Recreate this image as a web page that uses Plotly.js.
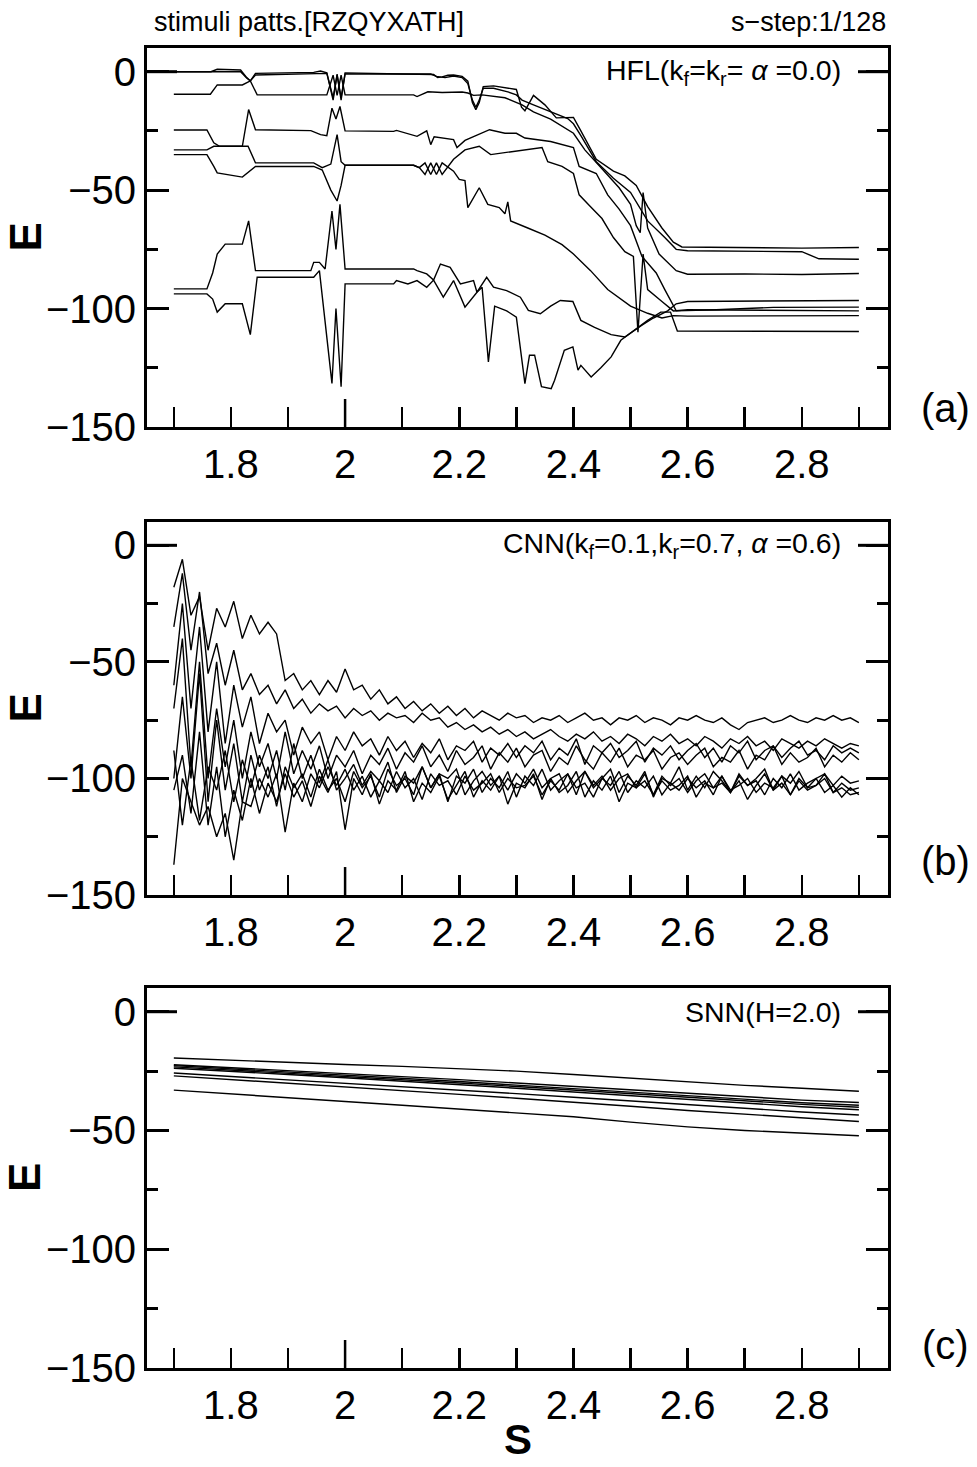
<!DOCTYPE html>
<html>
<head>
<meta charset="utf-8">
<script src="https://cdn.plot.ly/plotly-3.0.1.min.js"></script>
<style>html,body{margin:0;padding:0;background:#fff;}#chart{width:977px;height:1467px;}</style>
</head>
<body>
<div id="chart"></div>
<script>
// ---------------- Panel (a): HFL ----------------
const a1x = [1.70,1.765,1.776,1.817,1.826,1.834,1.843,1.945,1.957,1.968,1.979,1.986,1.993,2.0,2.10,2.155,2.162,2.17,2.18,2.19,2.205,2.215,2.223,2.229,2.235,2.242,2.26,2.285,2.30,2.309,2.315,2.33,2.35,2.37,2.40,2.413,2.44,2.47,2.49,2.51,2.53,2.555,2.575,2.59,2.70,2.80,2.90];
const a1y = [0,0,1,0.7,-2,-3.9,-0.7,-0.3,0.3,-0.5,-12,-1,-12,-0.5,-1,-1.2,-2.5,-2.2,-1.5,-1.4,-2,-4,-13,-16,-13,-6.3,-6,-6.8,-7.5,-15,-16.5,-10,-14,-19.5,-19.3,-25,-37,-42,-44,-48,-57,-66,-72,-74,-74.2,-74.5,-74.2];
const a2x = [1.70,1.817,1.828,1.834,1.843,1.968,1.979,1.986,1.993,2.0,2.15,2.16,2.175,2.19,2.205,2.215,2.223,2.229,2.235,2.242,2.26,2.285,2.30,2.31,2.33,2.35,2.39,2.40,2.413,2.44,2.47,2.50,2.515,2.53,2.56,2.58,2.60,2.80,2.83,2.90];
const a2y = [0,0,-2.8,-3.9,-1.4,-0.7,-11,-1.5,-11,-1,-1,-2,-2.5,-1.8,-2.5,-5,-12,-15,-12,-7,-7,-8.5,-9.8,-12,-14,-16,-19.8,-22,-27,-38,-45,-51,-57,-63,-70,-75,-75.6,-76,-79,-79.2];
const a3x = [1.70,1.764,1.776,1.82,1.834,1.846,1.968,1.979,1.986,1.993,2.0,2.12,2.126,2.145,2.17,2.205,2.215,2.225,2.24,2.27,2.28,2.31,2.33,2.36,2.40,2.42,2.45,2.48,2.50,2.51,2.517,2.522,2.53,2.55,2.58,2.60,2.70,2.80,2.90];
const a3y = [-9.5,-9.5,-5.6,-5.6,-3.9,-9.8,-9.8,-1.5,-10,-1.5,-9.8,-9.8,-10.5,-8.5,-8.8,-8.6,-9,-10,-9.8,-10.5,-11,-14,-17,-20,-26,-33,-41,-49,-56,-65,-68,-51,-66,-77,-84,-85.5,-85.4,-85.6,-85.2];
const a4x = [1.70,1.758,1.77,1.78,1.82,1.831,1.843,1.94,1.957,1.968,1.977,1.984,1.991,2.0,2.085,2.09,2.126,2.143,2.15,2.156,2.19,2.196,2.21,2.24,2.253,2.28,2.30,2.315,2.33,2.36,2.40,2.41,2.44,2.46,2.48,2.50,2.52,2.545,2.56,2.575,2.58,2.65,2.75,2.90];
const a4y = [-24.6,-24.6,-30,-31.5,-31.5,-16,-24.5,-24.9,-26.6,-27,-15.4,-20,-14.7,-25,-25.2,-24.8,-27.3,-25,-30.8,-27.5,-28.7,-32,-29,-25.9,-24.5,-26,-26,-28,-28.5,-29.5,-32,-40,-43,-52,-58,-65,-78,-85,-92,-99,-101,-100.5,-99.5,-99.4];
const a5x = [1.70,1.758,1.77,1.776,1.83,1.843,1.945,1.96,1.975,1.986,1.993,2.0,2.12,2.13,2.14,2.15,2.16,2.17,2.19,2.21,2.235,2.255,2.27,2.285,2.31,2.345,2.355,2.38,2.40,2.41,2.43,2.45,2.47,2.49,2.505,2.513,2.522,2.53,2.555,2.575,2.60,2.75,2.90];
const a5y = [-33,-33,-31.5,-31.5,-31.5,-38.5,-38.5,-40.5,-39,-26.6,-38,-39.5,-39.5,-40.5,-38.5,-43.4,-38.5,-43.4,-37,-33,-31.5,-35,-34.5,-34,-33,-32,-38,-40,-43,-52,-57,-62,-70,-76,-78,-110,-77,-92,-97,-101,-100.5,-100.6,-101];
const a6x = [1.70,1.758,1.77,1.776,1.82,1.843,1.945,1.96,1.975,1.986,1.993,2.0,2.12,2.13,2.14,2.15,2.16,2.17,2.19,2.2,2.21,2.215,2.235,2.25,2.27,2.28,2.285,2.29,2.32,2.35,2.38,2.40,2.43,2.46,2.50,2.53,2.555,2.575,2.60,2.75,2.90];
const a6y = [-35,-35,-40,-42.7,-44.5,-40,-40,-41.5,-50,-54.6,-48,-39.5,-39.5,-40.5,-43.4,-38.5,-43.4,-38.5,-42,-45.5,-46,-57.4,-49,-56,-57.4,-60,-55,-63,-66,-69,-73,-77,-84,-92,-99,-102,-104,-103,-103.2,-103,-103];
const a7x = [1.70,1.758,1.768,1.776,1.79,1.82,1.831,1.843,1.94,1.945,1.955,1.965,1.977,1.984,1.991,2.0,2.12,2.126,2.143,2.155,2.167,2.184,2.202,2.225,2.231,2.248,2.26,2.283,2.307,2.321,2.342,2.36,2.377,2.399,2.413,2.437,2.466,2.49,2.52,2.54,2.565,2.58,2.60,2.75,2.90];
const a7y = [-91.7,-91.7,-85,-77,-72.8,-72.8,-63,-84,-84,-80.5,-80.5,-83.3,-58.8,-75,-56,-83.3,-83.3,-84,-85.4,-88,-81.2,-82.6,-89.6,-88.2,-93.1,-86.8,-91,-92.4,-95.2,-100.8,-102.2,-99,-96.6,-97,-105,-108,-111,-112,-107,-104,-101,-98,-97,-96.8,-96.6];
const a8x = [1.70,1.758,1.768,1.776,1.79,1.82,1.834,1.846,1.945,1.955,1.977,1.984,1.993,2.0,2.085,2.09,2.11,2.126,2.143,2.155,2.172,2.19,2.21,2.231,2.24,2.251,2.262,2.283,2.30,2.315,2.323,2.332,2.344,2.361,2.367,2.384,2.399,2.408,2.413,2.431,2.448,2.466,2.483,2.506,2.53,2.553,2.57,2.582,2.70,2.90];
const a8y = [-93.8,-93.8,-96,-101.5,-98,-98,-111,-86.8,-86.8,-84,-131.6,-100,-133,-89.6,-89.6,-88.2,-89.6,-88.2,-91,-88,-95.2,-88.2,-99.4,-93.1,-91,-122.5,-99,-101,-103.6,-131.7,-119.7,-119.7,-133,-133.8,-130.3,-117.6,-116.2,-126,-124,-128.9,-125,-120.4,-113.4,-109.2,-105,-101.5,-101.5,-109.5,-109.6,-109.7];

// ---------------- Panel (b): CNN ----------------
const bx = [1.700,1.715,1.730,1.745,1.760,1.775,1.790,1.805,1.820,1.835,1.850,1.865,1.880,1.895,1.910,1.925,1.940,1.955,1.970,1.985,2.000,2.015,2.030,2.045,2.060,2.075,2.090,2.105,2.120,2.135,2.150,2.165,2.180,2.195,2.210,2.225,2.240,2.255,2.270,2.285,2.300,2.315,2.330,2.345,2.360,2.375,2.390,2.405,2.420,2.435,2.450,2.465,2.480,2.495,2.510,2.525,2.540,2.555,2.570,2.585,2.600,2.615,2.630,2.645,2.660,2.675,2.690,2.705,2.720,2.735,2.750,2.765,2.780,2.795,2.810,2.825,2.840,2.855,2.870,2.885,2.900];
const b1 = [-18,-6,-30,-22,-45,-27,-35,-24,-40,-30,-38,-33,-38,-58,-55,-62,-58,-64,-58,-63,-53,
  -62,-60,-66,-62,-68,-65,-70,-67,-71,-68,-72,-69,-73,-70,-74,-71,-73,-75,-72,-74,
  -73,-76,-74,-75,-73,-76,-74,-72,-75,-74,-77,-74,-75,-73,-76,-74,-75,-77,-74,-75,
  -73,-75,-76,-74,-77,-79,-76,-75,-74,-76,-75,-73,-75,-76,-74,-75,-73,-75,-74,-76];
const b2 = [-35,-12,-45,-20,-55,-42,-60,-45,-62,-55,-64,-60,-68,-62,-70,-66,-72,-68,-71,-69,-74,
  -70,-73,-71,-75,-72,-74,-73,-76,-72,-75,-74,-78,-76,-79,-77,-80,-78,-81,-79,-82,
  -80,-83,-81,-79,-82,-84,-81,-83,-80,-84,-82,-85,-81,-83,-86,-82,-84,-81,-85,-83,
  -86,-82,-84,-87,-83,-85,-82,-86,-84,-88,-83,-85,-87,-84,-86,-83,-85,-87,-85,-86];
const b3 = [-60,-25,-70,-35,-80,-50,-85,-60,-78,-65,-85,-72,-80,-75,-90,-78,-85,-80,-92,-82,-88,
  -80,-86,-83,-90,-82,-88,-84,-91,-85,-89,-83,-92,-86,-88,-84,-93,-87,-90,-85,-91,
  -86,-89,-84,-92,-87,-90,-83,-94,-86,-89,-85,-91,-88,-84,-93,-87,-90,-86,-92,-88,
  -85,-91,-87,-93,-86,-89,-84,-92,-88,-86,-91,-87,-84,-90,-88,-92,-86,-89,-87,-89];
const b4 = [-70,-40,-95,-50,-100,-70,-95,-75,-100,-80,-95,-85,-100,-80,-98,-88,-96,-86,-100,-90,-95,
  -88,-98,-90,-94,-87,-96,-89,-93,-86,-95,-90,-97,-88,-94,-91,-86,-96,-89,-93,-87,
  -95,-90,-88,-97,-91,-94,-86,-92,-96,-89,-93,-87,-95,-90,-92,-88,-96,-91,-89,-94,
  -90,-87,-95,-91,-93,-88,-96,-90,-92,-86,-94,-89,-93,-91,-87,-95,-90,-93,-89,-92];
const b5 = [-100,-65,-100,-55,-110,-75,-105,-85,-110,-90,-105,-95,-112,-95,-104,-98,-108,-96,-105,-100,-110,
  -97,-104,-99,-108,-96,-103,-100,-107,-95,-104,-98,-110,-99,-102,-96,-106,-100,-104,-97,-108,
  -99,-103,-96,-105,-101,-98,-107,-97,-104,-100,-96,-106,-99,-103,-97,-108,-100,-102,-95,-105,
  -99,-104,-97,-101,-106,-98,-103,-100,-96,-105,-99,-102,-97,-104,-100,-98,-103,-99,-102,-101];
const b6 = [-105,-90,-115,-80,-120,-95,-125,-105,-118,-100,-115,-102,-110,-98,-108,-101,-112,-99,-106,-97,-122,
  -100,-107,-98,-111,-101,-105,-97,-110,-102,-106,-99,-109,-103,-97,-108,-101,-105,-99,-111,-102,
  -104,-98,-109,-100,-106,-103,-97,-108,-101,-105,-99,-110,-102,-104,-98,-107,-101,-105,-103,-99,
  -108,-102,-104,-99,-106,-101,-109,-103,-98,-105,-102,-107,-100,-104,-103,-98,-106,-102,-105,-104];
const b7 = [-137,-100,-110,-120,-112,-125,-115,-135,-110,-112,-100,-108,-98,-123,-102,-110,-98,-104,-95,-103,-96,
  -105,-99,-108,-101,-106,-97,-104,-100,-109,-98,-103,-101,-107,-99,-105,-102,-98,-106,-100,-104,
  -103,-99,-107,-101,-105,-98,-104,-102,-108,-100,-103,-97,-106,-101,-104,-99,-107,-102,-105,-100,
  -104,-101,-107,-99,-105,-103,-100,-106,-102,-104,-99,-107,-101,-105,-103,-100,-106,-104,-107,-106];
const b8 = [-88,-120,-92,-118,-95,-105,-88,-110,-92,-104,-90,-100,-88,-105,-85,-100,-90,-102,-92,-105,-100,
  -94,-103,-97,-101,-93,-106,-99,-102,-95,-104,-98,-100,-96,-107,-101,-97,-103,-99,-105,-98,
  -102,-96,-104,-100,-98,-106,-101,-97,-103,-99,-105,-100,-98,-104,-101,-107,-99,-103,-100,-106,
  -101,-98,-104,-102,-106,-99,-103,-101,-107,-100,-104,-98,-105,-102,-100,-106,-103,-108,-104,-107];

// ---------------- Panel (c): SNN ----------------
const cx = [1.7,1.8,1.9,2.0,2.1,2.2,2.3,2.4,2.5,2.6,2.7,2.8,2.9];
const c1 = [-19.5,-20.5,-21.3,-22.2,-23,-24,-25,-26.4,-28,-29.5,-31,-32.2,-33.5];
const c2 = [-22.3,-23.5,-24.8,-26,-27.3,-28.6,-30,-31.5,-33,-34.5,-36,-37.2,-38.2];
const c3 = [-22.7,-24,-25.3,-26.6,-28,-29.4,-30.9,-32.4,-34,-35.5,-37,-38.3,-39.4];
const c4 = [-23.2,-24.5,-25.8,-27.1,-28.5,-30,-31.5,-33,-34.6,-36.2,-37.7,-39,-40.2];
const c5 = [-23.8,-25,-26.4,-27.8,-29.2,-30.7,-32.2,-33.8,-35.4,-37,-38.6,-40,-41.3];
const c6 = [-25.8,-27.2,-28.6,-30,-31.5,-33,-34.5,-36,-37.6,-39.3,-40.8,-42.2,-43.5];
const c7 = [-27,-28.5,-30,-31.6,-33.2,-34.8,-36.4,-38,-39.8,-41.6,-43.2,-44.8,-46.2];
const c8 = [-33,-34.5,-36,-37.8,-39.4,-41,-42.6,-44.2,-46.5,-48.5,-50,-51,-52.2];

// tick labels
const xTickVals = [1.8,2.0,2.2,2.4,2.6,2.8];
const xTickText = ['1.8','2','2.2','2.4','2.6','2.8'];
const yTickVals = [-150,-100,-50,0];
const yTickText = ['\u2212150','\u2212100','\u221250','0'];

const FONT = 'Liberation Sans, Arial, Helvetica, sans-serif';
const LINE = {color:'#000', width:1.4};

const traces = [];
function add(x, y, xa, ya){ traces.push({x:x, y:y, xaxis:xa, yaxis:ya, type:'scatter', mode:'lines', line:LINE, hoverinfo:'skip', showlegend:false}); }
[[a1x,a1y],[a2x,a2y],[a3x,a3y],[a4x,a4y],[a5x,a5y],[a6x,a6y],[a7x,a7y],[a8x,a8y]].forEach(p=>add(p[0],p[1],'x','y'));
[b1,b2,b3,b4,b5,b6,b7,b8].forEach(s=>add(bx,s,'x2','y2'));
[c1,c2,c3,c4,c5,c6,c7,c8].forEach(s=>add(cx,s,'x3','y3'));

function xaxis(anchor){
  return {anchor:anchor, domain:[0,1], range:[1.653,2.951], showline:true, linewidth:3, linecolor:'#000', mirror:true,
    showgrid:false, zeroline:false, ticks:'inside', ticklen:20, tickwidth:2.5, tickcolor:'#000',
    tickmode:'array', tickvals:xTickVals, ticktext:xTickText,
    minor:{dtick:0.1, tick0:1.7, ticks:'inside', ticklen:20, tickwidth:2.5, tickcolor:'#000', showgrid:false},
    tickfont:{family:FONT, size:40, color:'#000'}};
}
function yaxis(anchor, dom){
  return {anchor:anchor, domain:dom, range:[-150,10], showline:true, linewidth:3, linecolor:'#000', mirror:'ticks',
    showgrid:false, zeroline:false, ticks:'inside', ticklen:22, tickwidth:3, tickcolor:'#000',
    tickmode:'array', tickvals:yTickVals, ticktext:yTickText,
    minor:{dtick:25, tick0:0, ticks:'inside', ticklen:11, tickwidth:3, tickcolor:'#000', showgrid:false},
    tickfont:{family:FONT, size:40, color:'#000'}};
}

const domA = [0.7129,1.0], domB = [0.3583,0.6409], domC = [0,0.2879];
const shapes = [];
[['x','y',379],['x2','y2',373],['x3','y3',380]].forEach(p=>{
  const xd = p[0]+' domain', yd = p[1]+' domain';
  shapes.push({type:'line', xref:xd, yref:p[1], x0:0, x1:30/741, y0:0, y1:0, line:{color:'#000', width:3}});
  shapes.push({type:'line', xref:xd, yref:p[1], x0:1-30/741, x1:1, y0:0, y1:0, line:{color:'#000', width:3}});
  shapes.push({type:'line', xref:p[0], yref:yd, x0:2, x1:2, y0:0, y1:28/p[2], line:{color:'#000', width:2.5}});
});

const ann = [];
function txt(o, size){ ann.push(Object.assign({showarrow:false, font:{family:FONT, size:size, color:'#000'}}, o)); }
txt({text:'stimuli patts.[RZQYXATH]', xref:'paper', yref:'paper', x:0.0067, y:1.0197, xanchor:'left', yanchor:'middle'}, 27);
txt({text:'s\u2212step:1/128', xref:'paper', yref:'paper', x:1.0, y:1.0197, xanchor:'right', yanchor:'middle'}, 27);
txt({text:'HFL(k<sub>f</sub>=k<sub>r</sub>= <i>\u03b1</i> =0.0)', xref:'x domain', yref:'y', x:0.939, y:0, xanchor:'right', yanchor:'middle'}, 28.5);
txt({text:'CNN(k<sub>f</sub>=0.1,k<sub>r</sub>=0.7, <i>\u03b1</i> =0.6)', xref:'x2 domain', yref:'y2', x:0.939, y:0, xanchor:'right', yanchor:'middle'}, 28.5);
txt({text:'SNN(H=2.0)', xref:'x3 domain', yref:'y3', x:0.939, y:0, xanchor:'right', yanchor:'middle'}, 28.5);
['y','y2','y3'].forEach(ya=>{
  ann.push({text:'<b>E</b>', showarrow:false, xref:'paper', yref:ya+' domain', x:-0.1646, y:0.5, xanchor:'center', yanchor:'middle', textangle:-90, font:{family:FONT, size:44, color:'#000'}});
});
[['(a)','y',0.05],['(b)','y2',0.09],['(c)','y3',0.06]].forEach(p=>{
  ann.push({text:p[0], showarrow:false, xref:'paper', yref:p[1]+' domain', x:1.077, y:p[2], xanchor:'center', yanchor:'middle', font:{family:FONT, size:40, color:'#000'}});
});
ann.push({text:'<b>S</b>', showarrow:false, xref:'paper', yref:'paper', x:0.5, y:-0.0545, xanchor:'center', yanchor:'middle', font:{family:FONT, size:42, color:'#000'}});

const layout = {
  width:977, height:1467, margin:{l:147, r:89, t:48, b:99}, paper_bgcolor:'#fff', plot_bgcolor:'#fff',
  showlegend:false, font:{family:FONT, color:'#000'},
  xaxis:xaxis('y'), xaxis2:xaxis('y2'), xaxis3:xaxis('y3'),
  yaxis:yaxis('x', domA), yaxis2:yaxis('x2', domB), yaxis3:yaxis('x3', domC),
  shapes:shapes, annotations:ann
};
Plotly.newPlot('chart', traces, layout, {staticPlot:true, displayModeBar:false});
</script>
</body>
</html>
